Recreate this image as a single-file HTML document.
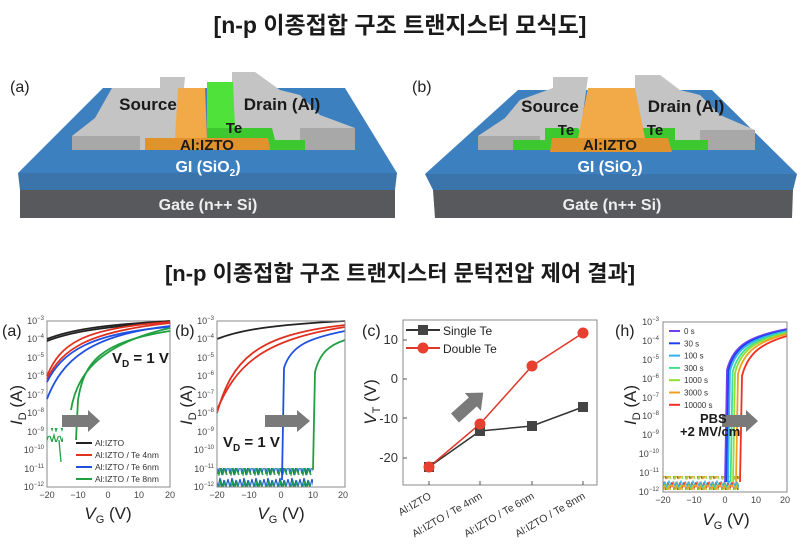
<!DOCTYPE html>
<html><head><meta charset="utf-8"><style>
html,body{margin:0;padding:0;background:#fff;}
svg{display:block;font-family:"Liberation Sans","Noto Sans CJK KR",sans-serif;}
.t{font-weight:bold;fill:#1a1a1a;}
.tk{font-size:9px;fill:#444;}
.cv{fill:none;stroke-width:1.8;}
</style></head><body>
<svg width="800" height="554" viewBox="0 0 800 554" xmlns="http://www.w3.org/2000/svg">
<defs>
<pattern id="nb" width="12" height="14" patternUnits="userSpaceOnUse">
<polyline points="0,3 2,12 4,2 6,13 8,4 10,11 12,3" fill="none" stroke="#2050e0" stroke-width="1.2"/>
<polyline points="1,6 3,13 5,5 7,12 9,6 11,13" fill="none" stroke="#20a040" stroke-width="1.2"/>
</pattern>
<pattern id="ng" width="10" height="12" patternUnits="userSpaceOnUse">
<polyline points="0,4 2,10 4,3 6,11 8,5 10,4" fill="none" stroke="#20a040" stroke-width="1.2"/>
</pattern>
<pattern id="nh" width="12" height="12" patternUnits="userSpaceOnUse">
<polyline points="0,2 2,10 4,3 6,11 8,2 10,9 12,2" fill="none" stroke="#f03020" stroke-width="1.1"/>
<polyline points="1,5 3,11 5,4 7,10 9,6 11,11" fill="none" stroke="#90e030" stroke-width="1.1"/>
<polyline points="0,7 2,3 4,9 6,4 8,10 10,5 12,7" fill="none" stroke="#f0a020" stroke-width="1.1"/>
<polyline points="1,1 3,6 5,2 7,7 9,1 11,5" fill="none" stroke="#30b0f0" stroke-width="1"/>
</pattern>
</defs>
<rect width="800" height="554" fill="#fff"/>
<text x="400" y="33" text-anchor="middle" class="t" font-size="23">[n-p 이종접합 구조 트랜지스터 모식도]</text>
<text x="400" y="281" text-anchor="middle" class="t" font-size="22">[n-p 이종접합 구조 트랜지스터 문턱전압 제어 결과]</text>

<!-- Device a -->
<g>
<polygon points="20,190 395,190 395,218 20,218" fill="#58595c"/>
<polygon points="18,173 397,173 395,190 20,190" fill="#3a74aa"/>
<polygon points="103,88 345,88 397,173 18,173" fill="#3d80c0"/>
<polygon points="72,150 72,136 95,118 112,88 160,88 160,77 185,77 178,150" fill="#c4c4c4"/>
<polygon points="72,150 72,136 140,136 140,150" fill="#a8a8a8"/>
<polygon points="232,72 255,72 280,90 300,95 320,115 355,128 355,150 232,150" fill="#c4c4c4"/>
<polygon points="300,128 355,128 355,150 300,150" fill="#a8a8a8"/>
<polygon points="178,88 205,88 207,138 175,138" fill="#f2aa48"/>
<polygon points="145,138 268,138 270,150 145,150" fill="#e0922c"/>
<polygon points="207,82 233,82 235,128 207,128" fill="#4ee23a"/>
<polygon points="207,128 272,128 275,140 305,140 305,150 270,150 268,138 207,138" fill="#3cc82e"/>
<text x="10" y="92" font-size="16" fill="#222">(a)</text>
<text x="148" y="110" class="t" font-size="17" text-anchor="middle">Source</text>
<text x="282" y="110" class="t" font-size="17" text-anchor="middle">Drain (Al)</text>
<text x="234" y="133" class="t" font-size="15" text-anchor="middle">Te</text>
<text x="207" y="150" class="t" font-size="15" text-anchor="middle">Al:IZTO</text>
<text x="208" y="172" font-size="16" fill="#fff" font-weight="bold" text-anchor="middle">GI (SiO<tspan font-size="10" dy="4">2</tspan><tspan dy="-4">)</tspan></text>
<text x="208" y="210" font-size="16" fill="#eee" font-weight="bold" text-anchor="middle">Gate (n++ Si)</text>
</g>
<!-- Device b -->
<g>
<polygon points="433,190 793,190 792,218 435,218" fill="#58595c"/>
<polygon points="425,174 797,174 793,190 433,190" fill="#3a74aa"/>
<polygon points="518,90 712,90 797,174 425,174" fill="#3d80c0"/>
<polygon points="478,150 478,136 505,118 520,100 553,88 553,77 588,77 578,150" fill="#c4c4c4"/>
<polygon points="478,150 478,136 540,136 540,150" fill="#a8a8a8"/>
<polygon points="635,75 660,75 680,90 700,95 720,115 755,130 755,150 635,150" fill="#c4c4c4"/>
<polygon points="700,130 755,130 755,150 700,150" fill="#a8a8a8"/>
<polygon points="513,140 545,140 545,128 578,128 590,150 513,150" fill="#3cc82e"/>
<polygon points="640,128 675,128 675,140 708,140 708,150 645,150" fill="#3cc82e"/>
<polygon points="588,88 635,88 645,138 578,138" fill="#f2aa48"/>
<polygon points="552,138 668,138 672,152 550,152" fill="#e0922c"/>
<text x="412" y="92" font-size="16" fill="#222">(b)</text>
<text x="550" y="112" class="t" font-size="17" text-anchor="middle">Source</text>
<text x="686" y="112" class="t" font-size="17" text-anchor="middle">Drain (Al)</text>
<text x="566" y="135" class="t" font-size="15" text-anchor="middle">Te</text>
<text x="655" y="135" class="t" font-size="15" text-anchor="middle">Te</text>
<text x="610" y="150" class="t" font-size="15" text-anchor="middle">Al:IZTO</text>
<text x="610" y="172" font-size="16" fill="#fff" font-weight="bold" text-anchor="middle">GI (SiO<tspan font-size="10" dy="4">2</tspan><tspan dy="-4">)</tspan></text>
<text x="612" y="210" font-size="16" fill="#eee" font-weight="bold" text-anchor="middle">Gate (n++ Si)</text>
</g>

<!-- panel labels / axis titles -->
<text x="2" y="336" font-size="16" fill="#222">(a)</text>
<text x="175" y="336" font-size="16" fill="#222">(b)</text>
<text x="362" y="336" font-size="16" fill="#222">(c)</text>
<text x="615" y="336" font-size="16" fill="#222">(h)</text>
<text transform="translate(22,405) rotate(-90)" font-size="17" fill="#222" text-anchor="middle"><tspan font-style="italic">I</tspan><tspan font-size="11" dy="4">D</tspan><tspan dy="-4"> (A)</tspan></text>
<text transform="translate(192,405) rotate(-90)" font-size="17" fill="#222" text-anchor="middle"><tspan font-style="italic">I</tspan><tspan font-size="11" dy="4">D</tspan><tspan dy="-4"> (A)</tspan></text>
<text transform="translate(376,402) rotate(-90)" font-size="17" fill="#222" text-anchor="middle"><tspan font-style="italic">V</tspan><tspan font-size="11" dy="4">T</tspan><tspan dy="-4"> (V)</tspan></text>
<text transform="translate(636,405) rotate(-90)" font-size="17" fill="#222" text-anchor="middle"><tspan font-style="italic">I</tspan><tspan font-size="11" dy="4">D</tspan><tspan dy="-4"> (A)</tspan></text>
<text x="108" y="519" font-size="17" fill="#222" text-anchor="middle"><tspan font-style="italic">V</tspan><tspan font-size="11" dy="4">G</tspan><tspan dy="-4"> (V)</tspan></text>
<text x="281" y="519" font-size="17" fill="#222" text-anchor="middle"><tspan font-style="italic">V</tspan><tspan font-size="11" dy="4">G</tspan><tspan dy="-4"> (V)</tspan></text>
<text x="726" y="525" font-size="17" fill="#222" text-anchor="middle"><tspan font-style="italic">V</tspan><tspan font-size="11" dy="4">G</tspan><tspan dy="-4"> (V)</tspan></text>

<!-- ===== (a) plot ===== -->
<g class="tk" text-anchor="end">
<text x="44" y="324">10<tspan dy="-4" font-size="6">−3</tspan></text>
<text x="44" y="342">10<tspan dy="-4" font-size="6">−4</tspan></text>
<text x="44" y="361">10<tspan dy="-4" font-size="6">−5</tspan></text>
<text x="44" y="379">10<tspan dy="-4" font-size="6">−6</tspan></text>
<text x="44" y="398">10<tspan dy="-4" font-size="6">−7</tspan></text>
<text x="44" y="416">10<tspan dy="-4" font-size="6">−8</tspan></text>
<text x="44" y="435">10<tspan dy="-4" font-size="6">−9</tspan></text>
<text x="44" y="453">10<tspan dy="-4" font-size="6">−10</tspan></text>
<text x="44" y="472">10<tspan dy="-4" font-size="6">−11</tspan></text>
<text x="44" y="490">10<tspan dy="-4" font-size="6">−12</tspan></text>
</g>
<g class="tk" text-anchor="middle">
<text x="47" y="498">−20</text><text x="78" y="498">−10</text><text x="108" y="498">0</text><text x="139" y="498">10</text><text x="170" y="498">20</text>
</g>
<rect x="47" y="321" width="123" height="166" fill="none" stroke="#888"/>
<rect x="47" y="428" width="16" height="14" fill="url(#ng)"/>
<path d="M59,440 L61,462" stroke="#20a040" stroke-width="1.3" fill="none"/>
<path class="cv" stroke="#222" stroke-width="2.4" d="M47,339 C70,330 100,325 170,321"/>
<path class="cv" stroke="#222" d="M47,341 C70,332 100,327 170,322"/>
<path class="cv" stroke="#e03020" d="M47,376 C60,345 80,328 170,322"/>
<path class="cv" stroke="#e03020" d="M47,379 C62,350 85,332 170,323"/>
<path class="cv" stroke="#2050e0" d="M47,399 C62,360 90,335 170,326"/>
<path class="cv" stroke="#2050e0" d="M47,382 C62,352 90,333 170,327"/>
<path class="cv" stroke="#20a040" d="M71,410 C76,378 95,345 170,328"/>
<path class="cv" stroke="#20a040" d="M76,440 L78,400 C84,362 100,342 170,331"/>
<polygon points="62,415 88,415 88,410 100,421 88,432 88,427 62,427" fill="#7a7a7a"/>
<text x="112" y="363" class="t" font-size="15">V<tspan font-size="10" dy="4">D</tspan><tspan dy="-4"> = 1 V</tspan></text>
<g font-size="8.5" fill="#333">
<line x1="76" y1="443" x2="92" y2="443" stroke="#222" stroke-width="2"/><text x="95" y="446">Al:IZTO</text>
<line x1="76" y1="455" x2="92" y2="455" stroke="#e03020" stroke-width="2"/><text x="95" y="458">Al:IZTO / Te 4nm</text>
<line x1="76" y1="467" x2="92" y2="467" stroke="#2050e0" stroke-width="2"/><text x="95" y="470">Al:IZTO / Te 6nm</text>
<line x1="76" y1="479" x2="92" y2="479" stroke="#20a040" stroke-width="2"/><text x="95" y="482">Al:IZTO / Te 8nm</text>
</g>

<!-- ===== (b) plot ===== -->
<g class="tk" text-anchor="end">
<text x="214" y="324">10<tspan dy="-4" font-size="6">−3</tspan></text>
<text x="214" y="342">10<tspan dy="-4" font-size="6">−4</tspan></text>
<text x="214" y="361">10<tspan dy="-4" font-size="6">−5</tspan></text>
<text x="214" y="379">10<tspan dy="-4" font-size="6">−6</tspan></text>
<text x="214" y="398">10<tspan dy="-4" font-size="6">−7</tspan></text>
<text x="214" y="416">10<tspan dy="-4" font-size="6">−8</tspan></text>
<text x="214" y="435">10<tspan dy="-4" font-size="6">−9</tspan></text>
<text x="214" y="453">10<tspan dy="-4" font-size="6">−10</tspan></text>
<text x="214" y="472">10<tspan dy="-4" font-size="6">−11</tspan></text>
<text x="214" y="490">10<tspan dy="-4" font-size="6">−12</tspan></text>
</g>
<g class="tk" text-anchor="middle">
<text x="217" y="498">−20</text><text x="249" y="498">−10</text><text x="281" y="498">0</text><text x="313" y="498">10</text><text x="343" y="498">20</text>
</g>
<rect x="217" y="468" width="96" height="19" fill="url(#nb)"/>
<path class="cv" stroke="#222" stroke-width="2.4" d="M217,339 C240,330 270,325 345,321"/>
<path class="cv" stroke="#e03020" d="M217,413 C232,360 255,335 345,325"/>
<path class="cv" stroke="#e03020" d="M217,410 C236,365 262,340 345,327"/>
<path class="cv" stroke="#2050e0" stroke-width="3.5" d="M282,480 L284,368 C291,345 310,338 345,331"/>
<path class="cv" stroke="#20a040" stroke-width="3" d="M313,470 L315,372 C320,352 330,345 345,340"/>
<rect x="217" y="321" width="128" height="166" fill="none" stroke="#888"/>
<polygon points="265,415 297,415 297,410 310,421 297,432 297,427 265,427" fill="#7a7a7a"/>
<text x="223" y="447" class="t" font-size="15">V<tspan font-size="10" dy="4">D</tspan><tspan dy="-4"> = 1 V</tspan></text>

<!-- ===== (c) plot ===== -->
<rect x="403" y="320" width="194" height="165" fill="none" stroke="#888"/>
<g stroke="#555"><line x1="403" y1="340" x2="407" y2="340"/><line x1="403" y1="379" x2="407" y2="379"/><line x1="403" y1="418" x2="407" y2="418"/><line x1="403" y1="458" x2="407" y2="458"/>
<line x1="429" y1="485" x2="429" y2="481"/><line x1="480" y1="485" x2="480" y2="481"/><line x1="532" y1="485" x2="532" y2="481"/><line x1="583" y1="485" x2="583" y2="481"/></g>
<polyline points="429,467 480,431 532,426 583,407" fill="none" stroke="#333" stroke-width="1.5"/>
<polyline points="429,467 480,424 532,366 583,333" fill="none" stroke="#e03828" stroke-width="1.5"/>
<g fill="#444"><rect x="424" y="462" width="10" height="10"/><rect x="475" y="426" width="10" height="10"/><rect x="527" y="421" width="10" height="10"/><rect x="578" y="402" width="10" height="10"/></g>
<g fill="#e84030"><circle cx="429" cy="467" r="5.5"/><circle cx="480" cy="424" r="5.5"/><circle cx="532" cy="366" r="5.5"/><circle cx="583" cy="333" r="5.5"/></g>
<polygon points="0,-6 24,-6 24,-12 38,0 24,12 24,6 0,6" fill="#7a7a7a" transform="translate(455,418) rotate(-42)"/>
<g font-size="12" fill="#222">
<line x1="406" y1="330" x2="440" y2="330" stroke="#333" stroke-width="2"/><rect x="418" y="325" width="10" height="10" fill="#444"/><text x="443" y="335">Single Te</text>
<line x1="406" y1="348" x2="440" y2="348" stroke="#e03828" stroke-width="2"/><circle cx="423" cy="348" r="5.5" fill="#e84030"/><text x="443" y="353">Double Te</text>
</g>
<g font-size="10.5" fill="#333" text-anchor="end">
<text transform="translate(432,498) rotate(-30)">Al:IZTO</text>
<text transform="translate(483,498) rotate(-30)">Al:IZTO / Te 4nm</text>
<text transform="translate(535,498) rotate(-30)">Al:IZTO / Te 6nm</text>
<text transform="translate(586,498) rotate(-30)">Al:IZTO / Te 8nm</text>
</g>
<g font-size="13" fill="#333" text-anchor="end">
<text x="398" y="344">10</text><text x="398" y="383">0</text><text x="398" y="423">-10</text><text x="398" y="462">-20</text>
</g>

<!-- ===== (h) plot ===== -->
<g class="tk" text-anchor="end">
<text x="659" y="325">10<tspan dy="-4" font-size="6">−3</tspan></text>
<text x="659" y="344">10<tspan dy="-4" font-size="6">−4</tspan></text>
<text x="659" y="363">10<tspan dy="-4" font-size="6">−5</tspan></text>
<text x="659" y="382">10<tspan dy="-4" font-size="6">−6</tspan></text>
<text x="659" y="401">10<tspan dy="-4" font-size="6">−7</tspan></text>
<text x="659" y="419">10<tspan dy="-4" font-size="6">−8</tspan></text>
<text x="659" y="438">10<tspan dy="-4" font-size="6">−9</tspan></text>
<text x="659" y="457">10<tspan dy="-4" font-size="6">−10</tspan></text>
<text x="659" y="476">10<tspan dy="-4" font-size="6">−11</tspan></text>
<text x="659" y="495">10<tspan dy="-4" font-size="6">−12</tspan></text>
</g>
<g class="tk" text-anchor="middle">
<text x="663" y="503">−20</text><text x="694" y="503">−10</text><text x="725" y="503">0</text><text x="756" y="503">10</text><text x="785" y="503">20</text>
</g>
<rect x="663" y="476" width="76" height="14" fill="url(#nh)"/>
<path class="cv" stroke-width="1.5" stroke="#7040f0" d="M725,482 L727,370 C733,345 750,336 787,329"/>
<path class="cv" stroke-width="1.5" stroke="#2040f0" d="M726.5,482 L728.5,370 C734.5,346 751,337 787,330"/>
<path class="cv" stroke-width="1.5" stroke="#30b0f0" d="M728,482 L730,371 C736,347 753,338 787,331"/>
<path class="cv" stroke-width="1.5" stroke="#40e090" d="M730.6,482 L732.6,372 C739,348 755,339 787,332"/>
<path class="cv" stroke-width="1.5" stroke="#90e030" d="M733,482 L735,373 C741,349 757,340 787,333"/>
<path class="cv" stroke-width="1.5" stroke="#f0a020" d="M736,482 L738,374 C744,350 760,341 787,334"/>
<path class="cv" stroke-width="1.5" stroke="#f03020" d="M740,482 L742,376 C748,352 763,343 787,336"/>
<rect x="663" y="322" width="124" height="170" fill="none" stroke="#888"/>
<polygon points="722,415 746,415 746,410 758,421 746,432 746,427 722,427" fill="#7a7a7a"/>
<g font-size="8" fill="#333">
<line x1="669" y1="331" x2="680" y2="331" stroke="#7040f0" stroke-width="2"/><text x="684" y="334">0 s</text>
<line x1="669" y1="343.3" x2="680" y2="343.3" stroke="#2040f0" stroke-width="2"/><text x="684" y="346.3">30 s</text>
<line x1="669" y1="355.6" x2="680" y2="355.6" stroke="#30b0f0" stroke-width="2"/><text x="684" y="358.6">100 s</text>
<line x1="669" y1="367.9" x2="680" y2="367.9" stroke="#40e090" stroke-width="2"/><text x="684" y="370.9">300 s</text>
<line x1="669" y1="380.2" x2="680" y2="380.2" stroke="#90e030" stroke-width="2"/><text x="684" y="383.2">1000 s</text>
<line x1="669" y1="392.5" x2="680" y2="392.5" stroke="#f0a020" stroke-width="2"/><text x="684" y="395.5">3000 s</text>
<line x1="669" y1="404.8" x2="680" y2="404.8" stroke="#f03020" stroke-width="2"/><text x="684" y="407.8">10000 s</text>
</g>
<text x="700" y="423" class="t" font-size="13">PBS</text>
<text x="680" y="436" class="t" font-size="13">+2 MV/cm</text>
</svg>
</body></html>
